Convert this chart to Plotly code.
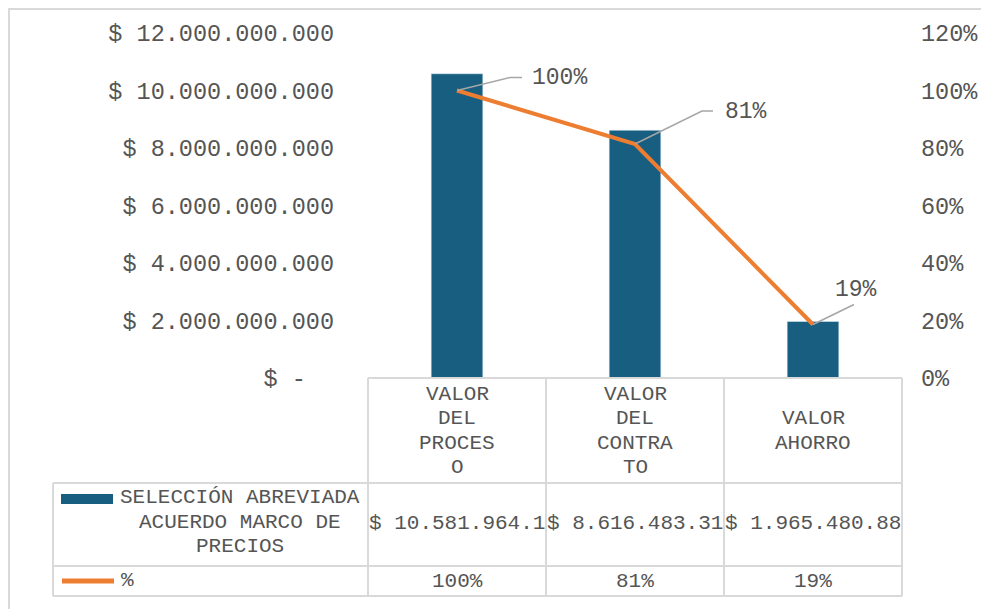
import plotly.graph_objects as go

# ---------------- data ----------------
categories = ["VALOR DEL PROCESO", "VALOR DEL CONTRATO", "VALOR AHORRO"]
category_lines = [["VALOR", "DEL", "PROCES", "O"], ["VALOR", "DEL", "CONTRA", "TO"], ["VALOR", "AHORRO"]]
series_name = "SELECCIÓN ABREVIADA ACUERDO MARCO DE PRECIOS"
series_name_lines = ["SELECCIÓN ABREVIADA", "ACUERDO MARCO DE", "PRECIOS"]
values = [10581964195, 8616483315, 1965480880]
pct_name = "%"
pct = [1.00, 0.814, 0.186]
left_ticks = [0, 2e9, 4e9, 6e9, 8e9, 10e9, 12e9]
right_ticks = [0, 0.2, 0.4, 0.6, 0.8, 1.0, 1.2]

# ---------------- style ----------------
BAR = "#175E80"
ORANGE = "#ED7D31"
GRID = "#D9D9D9"
TXT = "#555555"
FONT = "Liberation Mono"
OFF = 8  # page body margin
W, H = 989 - OFF, 609 - OFF
# plot area in page pixels
PL, PR, PT, PB = 368, 902, 33, 378


def px(x):
    return (x - PL) / (PR - PL)


def py(y):
    return (PB - y) / (PB - PT)


def money(v):
    if v == 0:
        return "$ -\u00a0\u00a0"
    return "$ " + f"{int(v):,}".replace(",", ".")


fig = go.Figure()
fig.add_trace(go.Bar(x=categories, y=values, name=series_name, marker_color=BAR,
                     width=0.29, showlegend=False))
fig.add_trace(go.Scatter(x=categories, y=pct, name=pct_name, yaxis="y2", mode="lines",
                         line=dict(color=ORANGE, width=4), showlegend=False))

shapes = []
annotations = []

# chart border
shapes.append(dict(type="rect", xref="paper", yref="paper", x0=px(9), x1=px(1000),
                   y0=py(630), y1=py(9), line=dict(color=GRID, width=2), layer="below"))

# data table grid
cols = [368, 546, 724, 902]
def hline(x0, x1, y):
    shapes.append(dict(type="line", xref="paper", yref="paper", x0=px(x0), x1=px(x1),
                       y0=py(y), y1=py(y), line=dict(color=GRID, width=2)))
def vline(x, y0, y1):
    shapes.append(dict(type="line", xref="paper", yref="paper", x0=px(x), x1=px(x),
                       y0=py(y0), y1=py(y1), line=dict(color=GRID, width=2)))

hline(368, 902, 378)
hline(53, 902, 483)
hline(53, 902, 566)
hline(53, 902, 596)
for c in cols:
    vline(c, 378, 596)
vline(53, 483, 596)

LH = 24.5
def multiline(lines, cx, cy, size=21):
    n = len(lines)
    for i, t in enumerate(lines):
        yy = cy + (i - (n - 1) / 2) * LH
        annotations.append(dict(xref="paper", yref="paper", x=px(cx), y=py(yy), text=t,
                                showarrow=False, xanchor="center", yanchor="middle",
                                font=dict(family=FONT, size=size, color=TXT)))

# category cells
for i, lines in enumerate(category_lines):
    cx = (cols[i] + cols[i + 1]) / 2
    multiline(lines, cx, 431, 21)

# value cells (truncated by cell width, like the source)
for i, v in enumerate(values):
    cx = (cols[i] + cols[i + 1]) / 2
    annotations.append(dict(xref="paper", yref="paper", x=px(cx), y=py(523),
                            text=money(v)[:14], showarrow=False, xanchor="center",
                            yanchor="middle", font=dict(family=FONT, size=21, color=TXT)))
    annotations.append(dict(xref="paper", yref="paper", x=px(cx), y=py(581),
                            text=f"{pct[i]:.0%}", showarrow=False, xanchor="center",
                            yanchor="middle", font=dict(family=FONT, size=21, color=TXT)))

# legend keys and names
shapes.append(dict(type="rect", xref="paper", yref="paper", x0=px(61), x1=px(113),
                   y0=py(504), y1=py(494), fillcolor=BAR, line=dict(width=0)))
shapes.append(dict(type="line", xref="paper", yref="paper", x0=px(62), x1=px(114),
                   y0=py(581), y1=py(581), line=dict(color=ORANGE, width=5)))
multiline(series_name_lines, 240, 522, 21)
annotations.append(dict(xref="paper", yref="paper", x=px(119), y=py(580), text=pct_name,
                        showarrow=False, xanchor="left", yanchor="middle",
                        font=dict(family=FONT, size=21, color=TXT)))

# data labels with leader lines
label_offsets = [(73, 13), (88, 32), (20, 35)]
leader_paths = ["M 0 0 L 53 13 L 65 13", "M 0 0 L 67 33 L 78 33", "M 0 0 L 41 20"]
for i, p in enumerate(pct):
    dx, dy = label_offsets[i]
    annotations.append(dict(xref="x", yref="y2", x=i, y=p, text=f"{p:.0%}", showarrow=False,
                            xanchor="left", yanchor="middle", xshift=dx, yshift=dy,
                            font=dict(family=FONT, size=23, color=TXT)))
    shapes.append(dict(type="path", xref="x", yref="y2", xsizemode="pixel", ysizemode="pixel",
                       xanchor=i, yanchor=p, path=leader_paths[i],
                       line=dict(color="#A6A6A6", width=1.5)))

fig.update_layout(
    width=W, height=H, autosize=False,
    margin=dict(l=PL - OFF, r=W - (PR - OFF), t=PT - OFF, b=H - (PB - OFF), pad=0),
    paper_bgcolor="white", plot_bgcolor="white",
    showlegend=False,
    xaxis=dict(type="category", range=[-0.5, 2.5], showticklabels=False, showgrid=False,
               zeroline=False, showline=False, ticks=""),
    yaxis=dict(range=[0, 12e9], tickvals=left_ticks, ticktext=[money(v) for v in left_ticks],
               showgrid=False, zeroline=False, showline=False, ticks="",
               ticklabelstandoff=33,
               tickfont=dict(family=FONT, size=23.5, color=TXT)),
    yaxis2=dict(range=[0, 1.2], overlaying="y", side="right", tickvals=right_ticks,
                ticktext=[f"{v:.0%}" for v in right_ticks], showgrid=False, zeroline=False,
                showline=False, ticks="", ticklabelstandoff=18,
                tickfont=dict(family=FONT, size=23.5, color=TXT)),
    shapes=shapes,
    annotations=annotations,
)

fig.write_html("out.html")
